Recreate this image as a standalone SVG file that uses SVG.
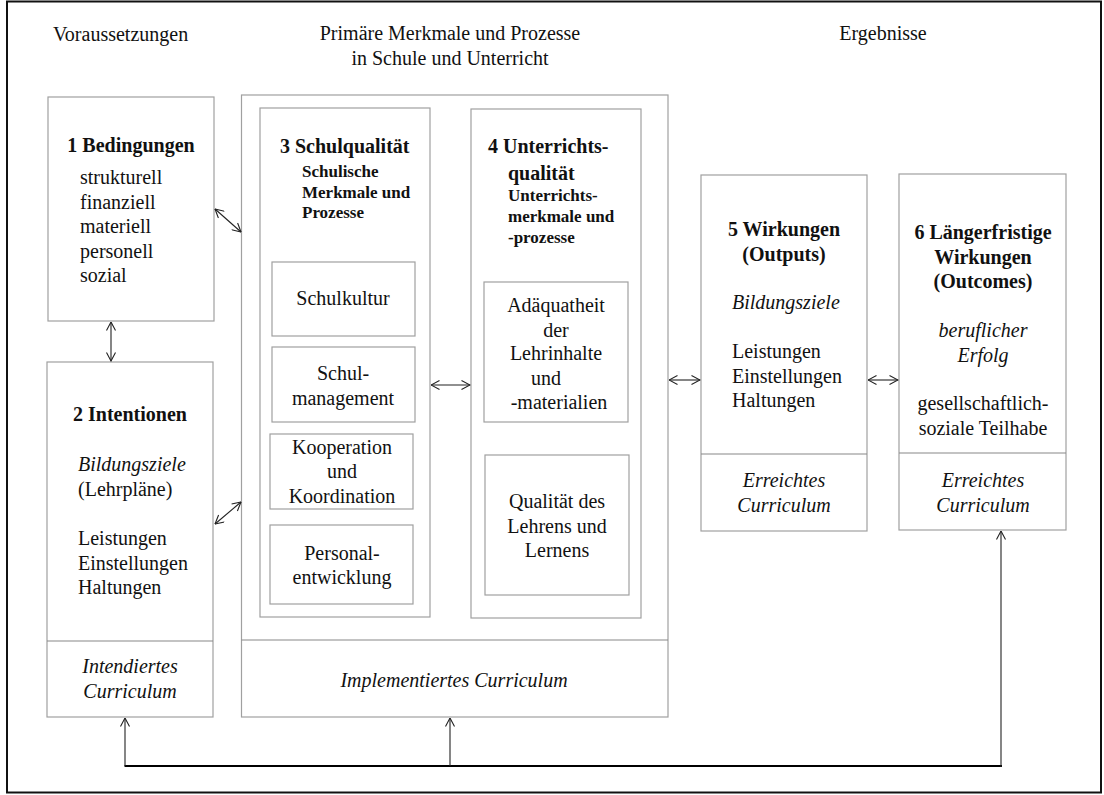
<svg xmlns="http://www.w3.org/2000/svg" width="1104" height="795" viewBox="0 0 1104 795">
<style>
text{font-family:"Liberation Serif","Times New Roman",serif;fill:#111;}
.h{font-size:20px;}
.t{font-size:20px;font-weight:bold;}
.s{font-size:17px;font-weight:bold;}
.n{font-size:20px;}
.i{font-size:20px;font-style:italic;}
.c{text-anchor:middle;}
.box{fill:#fff;stroke:#a0a0a0;stroke-width:1.2;}
.div{stroke:#888;stroke-width:1.2;}
.con{stroke:#222;stroke-width:1.1;fill:none;}
</style>
<defs>
<marker id="ah" viewBox="0 0 10 10" refX="9.5" refY="5" markerWidth="10" markerHeight="10" markerUnits="userSpaceOnUse" orient="auto-start-reverse">
<path d="M1,0.5 L9.5,5 L1,9.5" fill="none" stroke="#222" stroke-width="1.1"/>
</marker>
</defs>
<rect x="0" y="0" width="1104" height="795" fill="#fff"/>
<rect id="frame" x="7" y="1.5" width="1094" height="791" fill="none" stroke="#111" stroke-width="2"/>

<g id="headers">
<text class="h" x="53" y="41">Voraussetzungen</text>
<text class="h c" x="450" y="40">Primäre Merkmale und Prozesse</text>
<text class="h c" x="450" y="65">in Schule und Unterricht</text>
<text class="h c" x="883" y="40">Ergebnisse</text>
</g>

<g id="node1">
<rect class="box" x="48" y="97" width="166" height="224"/>
<text class="t c" x="131" y="152">1 Bedingungen</text>
<text class="n" x="80" y="184">strukturell</text>
<text class="n" x="80" y="208.5">finanziell</text>
<text class="n" x="80" y="233">materiell</text>
<text class="n" x="80" y="257.5">personell</text>
<text class="n" x="80" y="282">sozial</text>
</g>

<g id="node2">
<rect class="box" x="47" y="362" width="166" height="355"/>
<line class="div" x1="47" y1="641" x2="213" y2="641"/>
<text class="t c" x="130" y="421">2 Intentionen</text>
<text class="i" x="78" y="471">Bildungsziele</text>
<text class="n" x="78" y="496">(Lehrpläne)</text>
<text class="n" x="78" y="545">Leistungen</text>
<text class="n" x="78" y="570">Einstellungen</text>
<text class="n" x="78" y="594">Haltungen</text>
<text class="i c" x="130" y="673">Intendiertes</text>
<text class="i c" x="130" y="698">Curriculum</text>
</g>

<g id="nodeMiddle">
<rect class="box" x="241.5" y="95" width="426.5" height="622"/>
<line class="div" x1="241.5" y1="640" x2="668" y2="640"/>
<text class="i c" x="454" y="687">Implementiertes Curriculum</text>
</g>

<g id="node3">
<rect class="box" x="260" y="108" width="170" height="509"/>
<text class="t" x="280" y="153">3 Schulqualität</text>
<text class="s" x="302" y="177">Schulische</text>
<text class="s" x="302" y="197.5">Merkmale und</text>
<text class="s" x="302" y="218">Prozesse</text>
</g>
<g id="node3a">
<rect class="box" x="272" y="262" width="143" height="74"/>
<text class="n c" x="343" y="305">Schulkultur</text>
</g>
<g id="node3b">
<rect class="box" x="272" y="347" width="143" height="75"/>
<text class="n c" x="343" y="380">Schul-</text>
<text class="n c" x="343" y="405">management</text>
</g>
<g id="node3c">
<rect class="box" x="270" y="434" width="143" height="75"/>
<text class="n c" x="342" y="454">Kooperation</text>
<text class="n c" x="342" y="478">und</text>
<text class="n c" x="342" y="503">Koordination</text>
</g>
<g id="node3d">
<rect class="box" x="270" y="525" width="143" height="79"/>
<text class="n c" x="342" y="560">Personal-</text>
<text class="n c" x="342" y="584">entwicklung</text>
</g>

<g id="node4">
<rect class="box" x="471" y="109" width="170" height="509"/>
<text class="t" x="488" y="153">4 Unterrichts-</text>
<text class="t" x="508" y="180">qualität</text>
<text class="s" x="508" y="201">Unterrichts-</text>
<text class="s" x="508" y="222">merkmale und</text>
<text class="s" x="508" y="242.5">-prozesse</text>
</g>
<g id="node4a">
<rect class="box" x="484" y="282" width="144" height="140"/>
<text class="n c" x="556" y="312">Adäquatheit</text>
<text class="n c" x="556" y="337">der</text>
<text class="n c" x="556" y="360">Lehrinhalte</text>
<text class="n c" x="546" y="385">und</text>
<text class="n c" x="559" y="409">-materialien</text>
</g>
<g id="node4b">
<rect class="box" x="485" y="455" width="144" height="140"/>
<text class="n c" x="557" y="508">Qualität des</text>
<text class="n c" x="557" y="533">Lehrens und</text>
<text class="n c" x="557" y="557">Lernens</text>
</g>

<g id="node5">
<rect class="box" x="701" y="175" width="166" height="356"/>
<line class="div" x1="701" y1="454" x2="867" y2="454"/>
<text class="t c" x="784" y="236">5 Wirkungen</text>
<text class="t c" x="784" y="261">(Outputs)</text>
<text class="i" x="732" y="309">Bildungsziele</text>
<text class="n" x="732" y="358">Leistungen</text>
<text class="n" x="732" y="383">Einstellungen</text>
<text class="n" x="732" y="407">Haltungen</text>
<text class="i c" x="784" y="487">Erreichtes</text>
<text class="i c" x="784" y="512">Curriculum</text>
</g>

<g id="node6">
<rect class="box" x="899" y="174" width="167" height="356"/>
<line class="div" x1="899" y1="453" x2="1066" y2="453"/>
<text class="t c" x="983" y="239">6 Längerfristige</text>
<text class="t c" x="983" y="264">Wirkungen</text>
<text class="t c" x="983" y="288">(Outcomes)</text>
<text class="i c" x="983" y="337">beruflicher</text>
<text class="i c" x="983" y="362">Erfolg</text>
<text class="n c" x="983" y="410">gesellschaftlich-</text>
<text class="n c" x="983" y="435">soziale Teilhabe</text>
<text class="i c" x="983" y="487">Erreichtes</text>
<text class="i c" x="983" y="512">Curriculum</text>
</g>

<g id="connectors">
<line class="con" x1="111" y1="322" x2="111" y2="361" marker-start="url(#ah)" marker-end="url(#ah)"/>
<line class="con" x1="215" y1="209" x2="241" y2="232" marker-start="url(#ah)" marker-end="url(#ah)"/>
<line class="con" x1="215" y1="524" x2="241" y2="502" marker-start="url(#ah)" marker-end="url(#ah)"/>
<line class="con" x1="431" y1="385" x2="470" y2="385" marker-start="url(#ah)" marker-end="url(#ah)"/>
<line class="con" x1="669" y1="380" x2="700" y2="380" marker-start="url(#ah)" marker-end="url(#ah)"/>
<line class="con" x1="868" y1="380" x2="898" y2="380" marker-start="url(#ah)" marker-end="url(#ah)"/>
<line x1="124.5" y1="766" x2="1002" y2="766" stroke="#000" stroke-width="2.2"/>
<line class="con" x1="125" y1="766" x2="125" y2="718" marker-end="url(#ah)"/>
<line class="con" x1="450" y1="766" x2="450" y2="718" marker-end="url(#ah)"/>
<line class="con" x1="1001" y1="767" x2="1001" y2="531" marker-end="url(#ah)"/>
</g>
</svg>
